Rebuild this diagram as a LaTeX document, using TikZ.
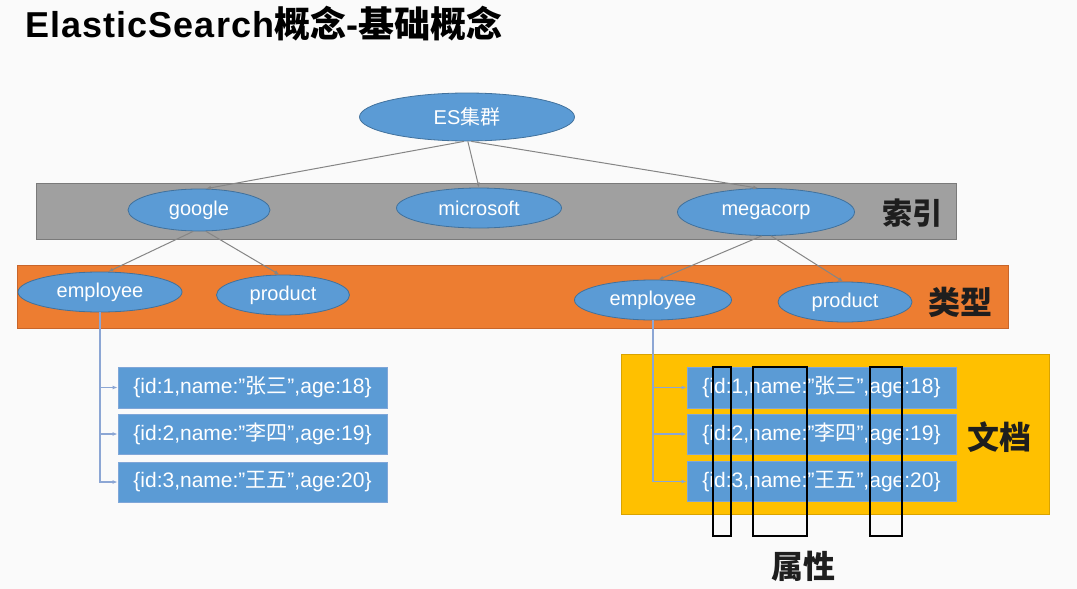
\documentclass[tikz,border=0pt]{standalone}
\usepackage{fontspec}
\setmainfont{Liberation Sans}
\newfontfamily\cjk{Noto Sans CJK SC}
\usetikzlibrary{shapes.geometric,arrows.meta}
\definecolor{bgfill}{HTML}{FAFAFA}
\definecolor{bluefill}{HTML}{5B9BD5}
\definecolor{blueline}{HTML}{41719C}
\definecolor{docborder}{HTML}{7FA6D8}
\definecolor{grayfill}{HTML}{A0A0A0}
\definecolor{grayborder}{HTML}{7A7A7A}
\definecolor{orangefill}{HTML}{ED7D31}
\definecolor{orangeborder}{HTML}{C8652A}
\definecolor{yellowfill}{HTML}{FFC000}
\definecolor{yellowborder}{HTML}{D9A300}
\definecolor{treeline}{HTML}{858585}
\definecolor{docline}{HTML}{8CA6D4}
\definecolor{labelcol}{HTML}{1E1E1E}
\tikzset{
  ell/.style={ellipse, draw=blueline, line width=0.8pt, fill=bluefill, text=white, inner sep=0pt,
    font=\fontsize{20}{24}\selectfont},
  docbox/.style={rectangle, draw=docborder, line width=0.8pt, fill=bluefill, text=white, inner sep=0pt,
    minimum width=269pt, minimum height=40pt, font=\fontsize{21}{25}\selectfont},
  tree/.style={draw=treeline, line width=1pt, -{Latex[length=5pt,width=4pt]}},
  docconn/.style={draw=docline, line width=1.2pt, -{Latex[length=5pt,width=4pt]}},
  biglabel/.style={text=labelcol, font=\cjk\bfseries\fontsize{32}{36}\selectfont},
  attrbox/.style={draw=black, line width=1.4pt}
}
\begin{document}
\begin{tikzpicture}[x=1pt,y=-1pt]
\useasboundingbox (0,0) rectangle (1077,589);
\fill[bgfill] (0,0) rectangle (1077,589);

% title
\node[anchor=base west, inner sep=0pt, font=\fontsize{36}{40}\selectfont\bfseries] (title) at (25,37)
  {{\addfontfeature{LetterSpace=3}ElasticSearch}{\cjk\bfseries 概念}-{\cjk\bfseries 基础概念}};

% bands
\draw[draw=grayborder, fill=grayfill, line width=0.8pt] (36,183) rectangle (956,239);
\draw[draw=orangeborder, fill=orangefill, line width=0.8pt] (17,265) rectangle (1008,328);
\draw[draw=yellowborder, fill=yellowfill, line width=0.8pt] (621,354) rectangle (1049,514);

% ellipses
\node[ell, minimum width=215pt, minimum height=48pt] (es) at (467,117) {ES{\cjk 集群}};
\node[ell, minimum width=142pt, minimum height=42pt] (google) at (199,210) {google};
\node[ell, minimum width=165pt, minimum height=40pt] (microsoft) at (479,208) {microsoft};
\node[ell, minimum width=177pt, minimum height=47pt] (megacorp) at (766,212) {megacorp};
\node[ell, minimum width=164pt, minimum height=40pt] (empL) at (100,292) {employee};
\node[ell, minimum width=133pt, minimum height=40pt] (prodL) at (283,295) {product};
\node[ell, minimum width=157pt, minimum height=40pt] (empR) at (653,300) {employee};
\node[ell, minimum width=134pt, minimum height=40pt] (prodR) at (845,302) {product};

% labels
\node[biglabel, font=\cjk\bfseries\fontsize{30}{34}\selectfont] (lblIndex) at (912,213) {索引};
\node[biglabel] (lblType) at (960,302) {类型};
\node[biglabel] (lblDoc) at (999,437) {文档};
\node[biglabel] (lblAttr) at (803,566) {属性};

% document boxes
\node[docbox, minimum height=41pt] (dL1) at (252.5,387.5) {\{id:1,name:”{\cjk 张三}”,age:18\}};
\node[docbox] (dL2) at (252.5,434) {\{id:2,name:”{\cjk 李四}”,age:19\}};
\node[docbox] (dL3) at (252.5,482) {\{id:3,name:”{\cjk 王五}”,age:20\}};
\node[docbox, minimum height=41pt] (dR1) at (821.5,387.5) {\{id:1,name:”{\cjk 张三}”,age:18\}};
\node[docbox] (dR2) at (821.5,434) {\{id:2,name:”{\cjk 李四}”,age:19\}};
\node[docbox] (dR3) at (821.5,481.5) {\{id:3,name:”{\cjk 王五}”,age:20\}};

% tree connectors
\draw[tree] (es.-97) -- (google.72);
\draw[tree] (es.-88) -- (microsoft.north);
\draw[tree] (es.-80) -- (megacorp.108);
\draw[tree] (google.-105) -- (empL.68);
\draw[tree] (google.-72) -- (prodL.100);
\draw[tree] (megacorp.-100) -- (empR.75);
\draw[tree] (megacorp.-78) -- (prodR.95);

% document connectors
\draw[docconn] (empL.south) |- (dL1.west);
\draw[docconn] (empL.south) |- (dL2.west);
\draw[docconn] (empL.south) |- (dL3.west);
\draw[docconn] (empR.south) |- (dR1.west);
\draw[docconn] (empR.south) |- (dR2.west);
\draw[docconn] (empR.south) |- (dR3.west);

% attribute outlines
\draw[attrbox] (713,367) rectangle (731,536);
\draw[attrbox] (753,367) rectangle (807,536);
\draw[attrbox] (870,367) rectangle (902,536);
\end{tikzpicture}
\end{document}
